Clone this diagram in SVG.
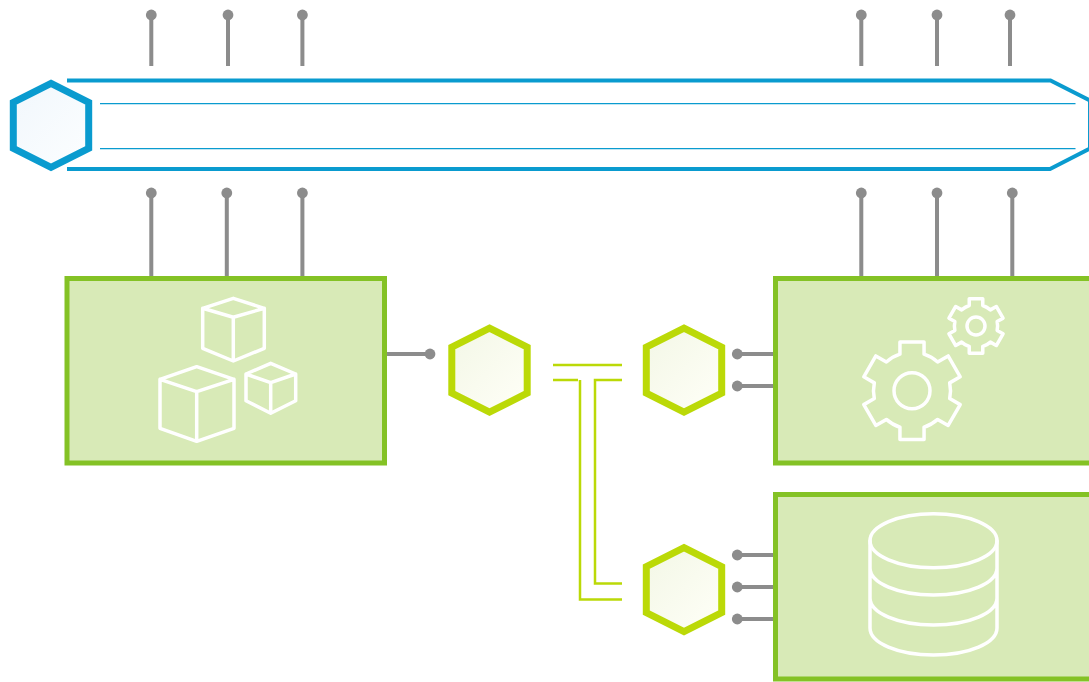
<svg xmlns="http://www.w3.org/2000/svg" width="1089" height="682" viewBox="0 0 1089 682">
<style>
.box{fill:#d8eab7;stroke:#84c225;stroke-width:5}
.icon{fill:none;stroke:#fff;stroke-width:3.500;stroke-linejoin:round;stroke-linecap:round}
.pin{fill:none;stroke:#8c8c8c;stroke-width:4}
.dot{fill:#8c8c8c}
.hexb{fill:url(#gb);stroke:#0a9bcf;stroke-width:7}
.hexg{fill:url(#gg);stroke:#bbd907;stroke-width:7}
.rail{fill:none;stroke:#0a9bcf;stroke-width:4}
.thin{fill:none;stroke:#0a9bcf;stroke-width:1.300}
.link{fill:none;stroke:#bbd907;stroke-width:2.500}
</style>
<defs>
<linearGradient id="gb" x1="0" y1="0" x2="1" y2="1"><stop offset="0" stop-color="#f1f7fc"/><stop offset="1" stop-color="#fcfeff"/></linearGradient>
<linearGradient id="gg" x1="0" y1="0" x2="1" y2="1"><stop offset="0" stop-color="#f3f7e6"/><stop offset="1" stop-color="#fffff8"/></linearGradient>
<path id="hex" d="M0 -42L37.700 -23V23L0 42L-37.700 23V-23Z"/>
<path id="gear" vector-effect="non-scaling-stroke" d="M-12.300 -37.300V-49.700H12.300V-37.300A39 39 0 0 1 26.150 -29.300L36.900 -35.500L49.200 -14.200L38.450 -8A39 39 0 0 1 38.450 8L49.200 14.200L36.900 35.500L26.150 29.300A39 39 0 0 1 12.300 37.300V49.700H-12.300V37.300A39 39 0 0 1 -26.150 29.300L-36.900 35.500L-49.200 14.200L-38.450 8A39 39 0 0 1 -38.450 -8L-49.200 -14.200L-36.900 -35.500L-26.150 -29.300A39 39 0 0 1 -12.300 -37.300Z"/>
</defs>
<g id="connectors">
<path class="pin" d="M151.300 15V66M228 15V66M302.400 15V66M861.300 15V66M937 15V66M1010 15V66M151.300 193V277M226.800 193V277M302.400 193V277M861.300 193V277M937 193V277M1012.300 193V277M386 354H430M737 354H775M737 386H775M737 555H775M737 587H775M737 619H775"/>
<g class="dot">
<circle cx="151.300" cy="15" r="5.400"/><circle cx="228" cy="15" r="5.400"/><circle cx="302.400" cy="15" r="5.400"/><circle cx="861.300" cy="15" r="5.400"/><circle cx="937" cy="15" r="5.400"/><circle cx="1010" cy="15" r="5.400"/>
<circle cx="151.300" cy="193" r="5.400"/><circle cx="226.800" cy="193" r="5.400"/><circle cx="302.400" cy="193" r="5.400"/><circle cx="861.300" cy="193" r="5.400"/><circle cx="937" cy="193" r="5.400"/><circle cx="1012.300" cy="193" r="5.400"/>
<circle cx="430" cy="354" r="5.400"/><circle cx="737.300" cy="354" r="5.400"/><circle cx="737.300" cy="386" r="5.400"/><circle cx="737.300" cy="555" r="5.400"/><circle cx="737.300" cy="587" r="5.400"/><circle cx="737.300" cy="619" r="5.400"/>
</g>
<path class="link" d="M553 365H622M553 380H578M622 380H595V583.500H622M580 380V599.500H622"/>
</g>
<g id="rail">
<path class="rail" d="M67 80.500H1050.500L1090 100.500V148.500L1050 169H67"/>
<path class="thin" d="M100 103.700H1075.500M100 148.700H1075.500"/>
</g>
<g id="hex-blue"><use href="#hex" class="hexb" transform="translate(51 125.300)"/></g>
<g id="hex-a"><use href="#hex" class="hexg" transform="translate(489.500 370.200)"/></g>
<g id="hex-b"><use href="#hex" class="hexg" transform="translate(684 370.200)"/></g>
<g id="hex-c"><use href="#hex" class="hexg" transform="translate(684 589.700)"/></g>
<g id="node-containers">
<rect class="box" x="67" y="278.500" width="317.500" height="184.500"/>
<g class="icon">
<path d="M233.300 298.300L264.300 308.300V348.300L233.300 361L202.700 348.300V308.300ZM202.700 308.300L233.300 317.300L264.300 308.300M233.300 317.300V361"/>
<path d="M196.700 366.700L234 379.300V428.300L196.700 441.300L160 428.300V379.300ZM160 379.300L196.700 391.700L234 379.300M196.700 391.700V441.300"/>
<path d="M270.700 363.300L295.700 374V400.700L270.700 413.300L246 400.700V374ZM246 374L270.700 382.700L295.700 374M270.700 382.700V413.300"/>
</g>
</g>
<g id="node-services">
<rect class="box" x="775.500" y="278.500" width="330" height="184.500"/>
<g class="icon">
<use href="#gear" transform="translate(912 390.700) scale(.98)"/>
<circle cx="912" cy="390.700" r="18"/>
<use href="#gear" transform="translate(976 326) scale(.55)"/>
<circle cx="976" cy="326" r="9"/>
</g>
</g>
<g id="node-database">
<rect class="box" x="775.500" y="494.500" width="330" height="184.500"/>
<g class="icon">
<ellipse cx="933.500" cy="540.700" rx="63.500" ry="27"/>
<path d="M870 540.700V628C870 643 898 655 933.500 655S997 643 997 628V540.700M870 568C870 583 898 595 933.500 595S997 583 997 568M870 598C870 613 898 625 933.500 625S997 613 997 598"/>
</g>
</g>
</svg>
